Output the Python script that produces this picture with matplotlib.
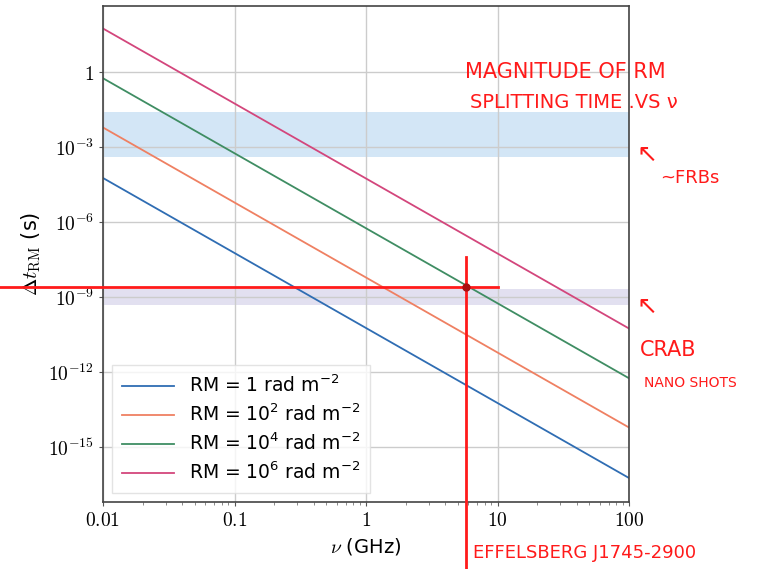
import numpy as np
import matplotlib.pyplot as plt
from matplotlib.font_manager import FontProperties

plt.rcParams['mathtext.fontset'] = 'cm'
plt.rcParams['font.family'] = 'DejaVu Sans'

# frequency endpoints (GHz) and splitting times (s)
nu = [0.01, 100]
dt_rm1 = [10**-4.24, 10**-16.24]
dt_rm2 = [10**-2.22, 10**-14.22]
dt_rm4 = [10**-0.25, 10**-12.25]
dt_rm6 = [10**1.74, 10**-10.26]
labels = ['RM = 1 rad m$^{-2}$',
          'RM = 10$^{2}$ rad m$^{-2}$',
          'RM = 10$^{4}$ rad m$^{-2}$',
          'RM = 10$^{6}$ rad m$^{-2}$']
colors = ['#2f6db3', '#ef8062', '#3f8d63', '#d3467c']

frb_band = [4e-4, 2.5e-2]
crab_band = [5e-10, 2e-9]
effelsberg_nu = 5.75
hline_dt = 2.5e-9

fig = plt.figure(figsize=(7.65, 5.69), dpi=100)
ax = fig.add_axes([103/765, 1 - 502/569, 526/765, 496/569])

ax.axhspan(frb_band[0], frb_band[1], color='#d3e6f6', lw=0, zorder=0)
ax.axhspan(crab_band[0], crab_band[1], color='#e2e0f0', lw=0, zorder=0)

for d, lab, c in zip([dt_rm1, dt_rm2, dt_rm4, dt_rm6], labels, colors):
    ax.plot(nu, d, color=c, lw=1.3, label=lab)

ax.set_xscale('log')
ax.set_yscale('log')
ax.set_xlim(0.01, 100)
ax.set_ylim(10**-17.2, 10**2.64)
ax.set_yticks([1, 1e-3, 1e-6, 1e-9, 1e-12, 1e-15])
ax.set_yticklabels(['$1$', '$10^{-3}$', '$10^{-6}$', '$10^{-9}$', '$10^{-12}$', '$10^{-15}$'])
ax.yaxis.set_minor_locator(plt.NullLocator())
ax.set_xticks([0.01, 0.1, 1, 10, 100])
ax.set_xticklabels(['$0.01$', '$0.1$', '$1$', '$10$', '$100$'])
ax.tick_params(labelsize=14, color='#555555', direction='out', length=3)
ax.tick_params(which='minor', length=2, color='#777777')
ax.grid(True, which='major', color='#cccccc', lw=1)
ax.set_axisbelow(True)
for s in ax.spines.values():
    s.set_color('#444444')
    s.set_linewidth(1.2)

ax.set_xlabel(r'$\nu$ (GHz)', fontsize=14)
ax.set_ylabel(r'$\Delta t_{\rm RM}$ (s)', fontsize=15)

legfont = FontProperties(family='DejaVu Sans', size=13.5, math_fontfamily='dejavusans')
leg = ax.legend(loc='lower left', prop=legfont, frameon=True, fancybox=False,
                edgecolor='#dddddd', handlelength=2.8, borderpad=0.5, labelspacing=0.4)

# hand-drawn red annotations
red = '#ff1a1a'
ax.plot([0.0015, 10], [hline_dt, hline_dt], color=red, lw=2, clip_on=False, zorder=5)
ax.plot([effelsberg_nu, effelsberg_nu], [4e-8, 1e-20], color=red, lw=2, clip_on=False, zorder=5)
ax.plot([effelsberg_nu], [hline_dt], 'o', color='#aa1010', ms=5, zorder=6)

fig.text(465/765, 1 - 72/569, 'MAGNITUDE OF RM', color=red, fontsize=15, va='center')
fig.text(470/765, 1 - 103/569, 'SPLITTING TIME .VS ν', color=red, fontsize=14, va='center')
fig.text(636/765, 1 - 155/569, '↖', color=red, fontsize=18, va='center')
fig.text(660/765, 1 - 178/569, '~FRBs', color=red, fontsize=13, va='center')
fig.text(636/765, 1 - 307/569, '↖', color=red, fontsize=18, va='center')
fig.text(640/765, 1 - 350/569, 'CRAB', color=red, fontsize=15, va='center')
fig.text(644/765, 1 - 383/569, 'NANO SHOTS', color=red, fontsize=10, va='center')
fig.text(473/765, 1 - 553/569, 'EFFELSBERG J1745-2900', color=red, fontsize=13, va='center')

fig.savefig('out.png', dpi=100)
